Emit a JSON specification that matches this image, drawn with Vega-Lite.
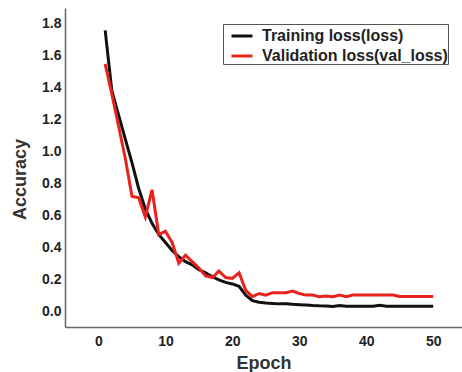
{
  "$schema": "https://vega.github.io/schema/vega-lite/v6.json",
  "width": 397,
  "height": 319,
  "autosize": {"type": "none"},
  "padding": {"left": 65, "top": 8, "right": 0, "bottom": 45},
  "background": "white",
  "config": {
    "view": {"stroke": null},
    "font": "Liberation Sans"
  },
  "data": {
    "values": [
      {"epoch": 1, "loss": 1.76, "series": "Training loss(loss)"},
      {"epoch": 2, "loss": 1.38, "series": "Training loss(loss)"},
      {"epoch": 3, "loss": 1.23, "series": "Training loss(loss)"},
      {"epoch": 4, "loss": 1.08, "series": "Training loss(loss)"},
      {"epoch": 5, "loss": 0.93, "series": "Training loss(loss)"},
      {"epoch": 6, "loss": 0.77, "series": "Training loss(loss)"},
      {"epoch": 7, "loss": 0.64, "series": "Training loss(loss)"},
      {"epoch": 8, "loss": 0.55, "series": "Training loss(loss)"},
      {"epoch": 9, "loss": 0.48, "series": "Training loss(loss)"},
      {"epoch": 10, "loss": 0.43, "series": "Training loss(loss)"},
      {"epoch": 11, "loss": 0.38, "series": "Training loss(loss)"},
      {"epoch": 12, "loss": 0.34, "series": "Training loss(loss)"},
      {"epoch": 13, "loss": 0.31, "series": "Training loss(loss)"},
      {"epoch": 14, "loss": 0.29, "series": "Training loss(loss)"},
      {"epoch": 15, "loss": 0.26, "series": "Training loss(loss)"},
      {"epoch": 16, "loss": 0.24, "series": "Training loss(loss)"},
      {"epoch": 17, "loss": 0.215, "series": "Training loss(loss)"},
      {"epoch": 18, "loss": 0.195, "series": "Training loss(loss)"},
      {"epoch": 19, "loss": 0.18, "series": "Training loss(loss)"},
      {"epoch": 20, "loss": 0.17, "series": "Training loss(loss)"},
      {"epoch": 21, "loss": 0.155, "series": "Training loss(loss)"},
      {"epoch": 22, "loss": 0.1, "series": "Training loss(loss)"},
      {"epoch": 23, "loss": 0.065, "series": "Training loss(loss)"},
      {"epoch": 24, "loss": 0.055, "series": "Training loss(loss)"},
      {"epoch": 25, "loss": 0.05, "series": "Training loss(loss)"},
      {"epoch": 26, "loss": 0.048, "series": "Training loss(loss)"},
      {"epoch": 27, "loss": 0.045, "series": "Training loss(loss)"},
      {"epoch": 28, "loss": 0.045, "series": "Training loss(loss)"},
      {"epoch": 29, "loss": 0.042, "series": "Training loss(loss)"},
      {"epoch": 30, "loss": 0.04, "series": "Training loss(loss)"},
      {"epoch": 31, "loss": 0.038, "series": "Training loss(loss)"},
      {"epoch": 32, "loss": 0.035, "series": "Training loss(loss)"},
      {"epoch": 33, "loss": 0.033, "series": "Training loss(loss)"},
      {"epoch": 34, "loss": 0.032, "series": "Training loss(loss)"},
      {"epoch": 35, "loss": 0.028, "series": "Training loss(loss)"},
      {"epoch": 36, "loss": 0.035, "series": "Training loss(loss)"},
      {"epoch": 37, "loss": 0.03, "series": "Training loss(loss)"},
      {"epoch": 38, "loss": 0.03, "series": "Training loss(loss)"},
      {"epoch": 39, "loss": 0.03, "series": "Training loss(loss)"},
      {"epoch": 40, "loss": 0.03, "series": "Training loss(loss)"},
      {"epoch": 41, "loss": 0.03, "series": "Training loss(loss)"},
      {"epoch": 42, "loss": 0.036, "series": "Training loss(loss)"},
      {"epoch": 43, "loss": 0.03, "series": "Training loss(loss)"},
      {"epoch": 44, "loss": 0.03, "series": "Training loss(loss)"},
      {"epoch": 45, "loss": 0.03, "series": "Training loss(loss)"},
      {"epoch": 46, "loss": 0.03, "series": "Training loss(loss)"},
      {"epoch": 47, "loss": 0.03, "series": "Training loss(loss)"},
      {"epoch": 48, "loss": 0.03, "series": "Training loss(loss)"},
      {"epoch": 49, "loss": 0.03, "series": "Training loss(loss)"},
      {"epoch": 50, "loss": 0.03, "series": "Training loss(loss)"},
      {"epoch": 1, "loss": 1.55, "series": "Validation loss(val_loss)"},
      {"epoch": 2, "loss": 1.36, "series": "Validation loss(val_loss)"},
      {"epoch": 3, "loss": 1.16, "series": "Validation loss(val_loss)"},
      {"epoch": 4, "loss": 0.96, "series": "Validation loss(val_loss)"},
      {"epoch": 5, "loss": 0.72, "series": "Validation loss(val_loss)"},
      {"epoch": 6, "loss": 0.71, "series": "Validation loss(val_loss)"},
      {"epoch": 7, "loss": 0.59, "series": "Validation loss(val_loss)"},
      {"epoch": 8, "loss": 0.76, "series": "Validation loss(val_loss)"},
      {"epoch": 9, "loss": 0.48, "series": "Validation loss(val_loss)"},
      {"epoch": 10, "loss": 0.5, "series": "Validation loss(val_loss)"},
      {"epoch": 11, "loss": 0.43, "series": "Validation loss(val_loss)"},
      {"epoch": 12, "loss": 0.3, "series": "Validation loss(val_loss)"},
      {"epoch": 13, "loss": 0.35, "series": "Validation loss(val_loss)"},
      {"epoch": 14, "loss": 0.31, "series": "Validation loss(val_loss)"},
      {"epoch": 15, "loss": 0.27, "series": "Validation loss(val_loss)"},
      {"epoch": 16, "loss": 0.22, "series": "Validation loss(val_loss)"},
      {"epoch": 17, "loss": 0.21, "series": "Validation loss(val_loss)"},
      {"epoch": 18, "loss": 0.25, "series": "Validation loss(val_loss)"},
      {"epoch": 19, "loss": 0.21, "series": "Validation loss(val_loss)"},
      {"epoch": 20, "loss": 0.205, "series": "Validation loss(val_loss)"},
      {"epoch": 21, "loss": 0.24, "series": "Validation loss(val_loss)"},
      {"epoch": 22, "loss": 0.13, "series": "Validation loss(val_loss)"},
      {"epoch": 23, "loss": 0.09, "series": "Validation loss(val_loss)"},
      {"epoch": 24, "loss": 0.11, "series": "Validation loss(val_loss)"},
      {"epoch": 25, "loss": 0.1, "series": "Validation loss(val_loss)"},
      {"epoch": 26, "loss": 0.115, "series": "Validation loss(val_loss)"},
      {"epoch": 27, "loss": 0.115, "series": "Validation loss(val_loss)"},
      {"epoch": 28, "loss": 0.115, "series": "Validation loss(val_loss)"},
      {"epoch": 29, "loss": 0.125, "series": "Validation loss(val_loss)"},
      {"epoch": 30, "loss": 0.11, "series": "Validation loss(val_loss)"},
      {"epoch": 31, "loss": 0.1, "series": "Validation loss(val_loss)"},
      {"epoch": 32, "loss": 0.1, "series": "Validation loss(val_loss)"},
      {"epoch": 33, "loss": 0.09, "series": "Validation loss(val_loss)"},
      {"epoch": 34, "loss": 0.095, "series": "Validation loss(val_loss)"},
      {"epoch": 35, "loss": 0.09, "series": "Validation loss(val_loss)"},
      {"epoch": 36, "loss": 0.1, "series": "Validation loss(val_loss)"},
      {"epoch": 37, "loss": 0.09, "series": "Validation loss(val_loss)"},
      {"epoch": 38, "loss": 0.1, "series": "Validation loss(val_loss)"},
      {"epoch": 39, "loss": 0.1, "series": "Validation loss(val_loss)"},
      {"epoch": 40, "loss": 0.1, "series": "Validation loss(val_loss)"},
      {"epoch": 41, "loss": 0.1, "series": "Validation loss(val_loss)"},
      {"epoch": 42, "loss": 0.1, "series": "Validation loss(val_loss)"},
      {"epoch": 43, "loss": 0.1, "series": "Validation loss(val_loss)"},
      {"epoch": 44, "loss": 0.1, "series": "Validation loss(val_loss)"},
      {"epoch": 45, "loss": 0.092, "series": "Validation loss(val_loss)"},
      {"epoch": 46, "loss": 0.092, "series": "Validation loss(val_loss)"},
      {"epoch": 47, "loss": 0.092, "series": "Validation loss(val_loss)"},
      {"epoch": 48, "loss": 0.092, "series": "Validation loss(val_loss)"},
      {"epoch": 49, "loss": 0.092, "series": "Validation loss(val_loss)"},
      {"epoch": 50, "loss": 0.092, "series": "Validation loss(val_loss)"}
    ]
  },
  "mark": {"type": "line", "strokeWidth": 3, "strokeJoin": "miter", "clip": true},
  "encoding": {
    "x": {
      "field": "epoch",
      "type": "quantitative",
      "scale": {"domain": [-5, 54.3], "nice": false, "zero": false},
      "axis": {
        "title": "Epoch",
        "values": [0, 10, 20, 30, 40, 50],
        "ticks": false,
        "grid": false,
        "domainColor": "#666666",
        "domainWidth": 1.5,
        "labelFont": "Liberation Sans",
        "labelFontWeight": "bold",
        "labelFontSize": 14,
        "labelColor": "#222222",
        "labelPadding": 7,
        "titleFont": "Liberation Sans",
        "titleFontWeight": "bold",
        "titleFontSize": 18,
        "titleColor": "#333333",
        "titlePadding": 6
      }
    },
    "y": {
      "field": "loss",
      "type": "quantitative",
      "scale": {"domain": [-0.1, 1.9], "nice": false, "zero": false},
      "axis": {
        "title": "Accuracy",
        "values": [0, 0.2, 0.4, 0.6, 0.8, 1.0, 1.2, 1.4, 1.6, 1.8],
        "format": ".1f",
        "ticks": false,
        "grid": false,
        "domainColor": "#666666",
        "domainWidth": 1.5,
        "labelFont": "Liberation Sans",
        "labelFontWeight": "bold",
        "labelFontSize": 14,
        "labelColor": "#222222",
        "labelPadding": 4,
        "titleFont": "Liberation Sans",
        "titleFontWeight": "bold",
        "titleFontSize": 18,
        "titleColor": "#333333",
        "titlePadding": 12,
        "titleY": 171
      }
    },
    "color": {
      "field": "series",
      "type": "nominal",
      "scale": {
        "domain": ["Training loss(loss)", "Validation loss(val_loss)"],
        "range": ["#111111", "#e8231e"]
      },
      "legend": {
        "title": null,
        "orient": "none",
        "legendX": 158,
        "legendY": 16,
        "symbolType": "stroke",
        "symbolSize": 441,
        "symbolStrokeWidth": 3,
        "symbolOffset": 7,
        "labelFont": "Liberation Sans",
        "labelFontWeight": "bold",
        "labelFontSize": 16,
        "labelColor": "#222222",
        "labelOffset": 8,
        "strokeColor": "#555555",
        "fillColor": "white",
        "padding": 0,
        "rowPadding": -1,
        "labelLimit": 300
      }
    }
  }
}
